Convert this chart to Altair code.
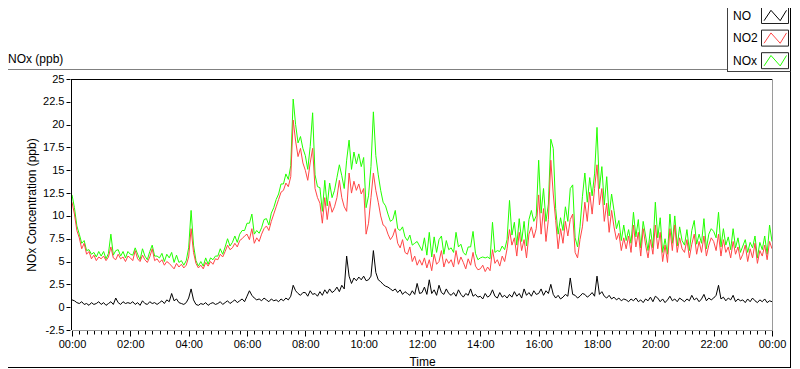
import altair as alt
import pandas as pd

# ---------------- data (5-minute samples) ----------------
SERIES = ["NO", "NO2", "NOx"]
COLORS = ["#000000", "#ff4646", "#22ff00"]
STEP_MIN = 5
Y_TICKS = [-2.5, 0, 2.5, 5, 7.5, 10, 12.5, 15, 17.5, 20, 22.5, 25]
X_TICKS = [i * 0.25 for i in range(97)]  # every 15 minutes, 00:00 .. 24:00

NO = [
    0.8, 0.7, 0.5, 0.4, 0.6, 0.3, 0.4, 0.2, 0.5, 0.3, 0.4, 0.6,
    0.3, 0.5, 0.2, 0.4, 0.6, 0.3, 1.0, 0.5, 0.3, 0.6, 0.4, 0.5,
    0.4, 0.6, 0.3, 0.5, 0.2, 0.7, 0.4, 0.3, 0.6, 0.4, 0.5, 0.3,
    0.5, 0.7, 0.4, 0.8, 0.6, 1.5, 0.7, 0.9, 0.5, 0.4, 0.3, 0.5,
    1.0, 2.0, 0.8, 0.3, 0.2, 0.4, 0.3, 0.5, 0.2, 0.4, 0.5, 0.3,
    0.4, 0.6, 0.3, 0.5, 0.7, 0.4, 0.6, 0.8, 0.5, 0.7, 0.9, 0.6,
    1.2, 1.8, 1.3, 1.0, 0.8, 0.9, 0.7, 1.0, 0.8, 0.6, 0.9, 0.7,
    0.8, 0.6, 0.9, 0.7, 1.0, 0.8, 1.2, 2.4, 1.8, 1.5, 1.3, 1.6,
    1.6, 1.2, 1.8, 1.4, 1.5, 1.2, 1.7, 1.3, 1.9, 1.5, 2.0, 1.6,
    1.8, 2.2, 1.7, 2.4, 2.0, 5.6, 3.4, 2.6, 3.2, 2.9, 3.3, 3.0,
    3.4, 2.9, 3.0, 3.4, 6.2, 3.8, 3.0, 2.8, 2.5, 2.3, 2.2, 2.0,
    1.8, 2.0, 1.6, 1.9, 1.4, 1.7, 1.5, 1.3, 1.8, 1.4, 2.6, 1.5,
    1.6, 2.2, 1.4, 3.0, 1.5, 1.9, 1.3, 2.4, 1.6, 1.4, 2.0, 1.5,
    1.3, 1.6, 1.2, 1.9, 1.4, 1.1, 1.5, 1.3, 2.0, 1.2, 1.4, 1.1,
    1.2, 0.9, 1.5, 1.1, 1.3, 1.9, 1.2, 1.0, 1.6, 1.1, 1.3, 1.0,
    1.4, 1.1, 1.7, 1.2, 1.5, 1.0, 2.0, 1.3, 1.6, 1.2, 1.8, 1.4,
    1.5, 2.0, 1.3, 1.8, 1.5, 2.5, 1.4, 1.0, 1.3, 0.9, 1.1, 1.4,
    1.2, 3.2, 1.4, 1.3, 1.0, 1.2, 1.5, 1.4, 1.1, 1.3, 1.6, 1.2,
    3.4, 1.4, 1.7, 1.2, 1.0, 1.3, 0.9, 1.1, 0.8, 1.0, 0.7, 0.9,
    0.8, 0.6, 0.9, 0.7, 1.0, 0.6, 0.8, 0.5, 0.9, 0.7, 1.1, 0.6,
    1.2, 1.0, 0.6, 0.9, 0.5, 0.8, 1.2, 0.7, 0.9, 0.6, 1.0, 0.8,
    0.6, 0.9, 0.7, 1.3, 0.8, 1.0, 0.6, 0.9, 1.4, 0.7, 1.0, 0.8,
    1.0, 1.3, 2.4, 0.9, 1.1, 0.7, 1.0, 0.8, 1.3, 0.6, 0.9, 0.7,
    0.8, 0.5, 0.9, 0.6, 1.0, 0.7, 0.5, 0.8, 0.6, 0.9, 0.5, 0.7,
    0.6,
]

NO2 = [
    11.5, 10.2, 8.4, 7.6, 6.4, 7.0, 5.8, 6.1, 5.3, 5.7, 5.1, 5.5,
    5.3, 5.6, 5.1, 5.5, 6.6, 5.4, 5.2, 5.8, 5.3, 5.5, 5.0, 5.6,
    5.4, 5.1, 6.2, 5.3, 5.0, 5.7, 5.2, 4.9, 5.5, 6.4, 5.1, 5.3,
    4.9, 5.2, 4.6, 5.0, 4.8, 4.5, 4.2, 4.8, 4.4, 4.7, 4.3, 4.6,
    5.5, 8.6, 6.0, 4.8, 4.3, 4.6, 4.2, 4.9, 4.5, 5.0, 4.7, 5.3,
    5.2, 5.8, 5.5, 6.1, 6.8, 6.3, 6.5, 7.0, 6.6, 7.3, 7.5, 7.8,
    8.0, 7.4, 8.6, 7.0, 7.6, 7.2, 8.0, 8.6, 8.9, 8.4, 9.4, 10.2,
    11.0, 11.8, 12.6, 12.8, 13.6, 13.2, 14.3, 20.5, 18.2, 16.5, 17.4, 15.8,
    15.0, 13.9, 15.8, 17.4, 13.0, 12.0, 11.4, 9.2, 12.0, 9.6, 11.6, 10.4,
    11.0, 12.0, 13.9, 12.0, 11.0, 10.5, 14.7, 12.5, 13.8, 12.8, 13.5, 12.4,
    13.0, 8.0, 9.2, 12.0, 14.7, 12.8, 11.5, 10.0, 9.0, 8.8, 8.0, 7.4,
    7.8, 8.6, 7.0, 6.5, 7.4, 6.0, 5.8, 6.6, 5.0, 5.6, 4.6, 5.2,
    4.6, 5.4, 4.3, 5.2, 4.0, 5.8, 4.7, 5.0, 6.2, 4.4, 5.3, 4.8,
    5.2, 4.4, 6.2, 4.7, 5.5, 4.9, 4.2, 5.3, 4.6, 6.0, 4.5, 4.1,
    4.2, 4.6, 3.9, 4.4, 4.0, 6.3, 4.8, 5.2, 4.5, 5.6, 5.0, 6.4,
    8.5, 6.8, 7.6, 5.6, 8.2, 6.2, 7.4, 5.4, 8.0, 8.8, 7.6, 8.6,
    12.3, 8.0, 10.8, 7.2, 9.6, 16.1, 12.4, 9.5, 6.4, 8.6, 7.0, 9.4,
    7.8, 9.6, 10.2, 6.0, 5.4, 7.4, 8.8, 11.5, 9.4, 12.6, 10.2, 13.0,
    15.6, 11.2, 13.0, 9.4, 11.4, 8.2, 10.6, 8.8, 7.4, 8.1, 6.2, 7.6,
    6.4, 7.8, 6.0, 9.0, 6.6, 8.2, 5.6, 8.6, 6.8, 5.4, 7.4, 5.8,
    9.0, 6.4, 8.2, 5.0, 6.8, 4.9, 8.6, 6.2, 9.0, 6.0, 7.6, 6.4,
    6.0, 7.4, 5.4, 6.9, 8.0, 5.8, 7.2, 6.0, 7.8, 5.6, 6.8, 7.6,
    7.2, 6.2, 8.0, 5.6, 7.4, 6.0, 6.6, 5.4, 7.2, 5.8, 6.6, 5.2,
    5.8, 6.8, 5.0, 6.4, 5.4, 7.0, 4.8, 6.2, 5.6, 6.8, 5.2, 7.2,
    6.4,
]

NOX = [
    12.3, 10.9, 8.9, 8.0, 7.0, 7.3, 6.2, 6.3, 5.8, 6.0, 5.5, 6.1,
    5.6, 6.1, 5.3, 5.9, 8.0, 5.7, 6.2, 6.3, 5.6, 6.1, 5.4, 6.1,
    5.8, 5.7, 6.5, 5.8, 5.2, 6.4, 5.6, 5.2, 6.1, 6.8, 5.6, 5.6,
    5.4, 5.9, 5.0, 5.8, 5.4, 6.0, 4.9, 5.7, 4.9, 5.1, 4.6, 5.1,
    6.5, 10.6, 6.8, 5.1, 4.5, 5.0, 4.5, 5.4, 4.7, 5.4, 5.2, 5.6,
    5.6, 6.4, 5.8, 6.6, 7.5, 6.7, 7.1, 7.8, 7.1, 8.0, 8.4, 8.4,
    9.2, 9.2, 10.2, 8.0, 8.4, 8.1, 8.7, 9.6, 9.7, 9.0, 10.3, 10.9,
    11.8, 12.4, 13.5, 13.5, 14.6, 14.0, 15.5, 22.8, 20.0, 18.0, 18.7, 17.4,
    16.6, 15.1, 17.6, 21.3, 14.5, 13.2, 13.1, 10.5, 13.9, 11.1, 13.6, 12.0,
    12.8, 14.2, 15.6, 14.4, 13.0, 16.1, 18.3, 15.1, 17.0, 15.7, 16.8, 15.4,
    16.4, 10.9, 12.2, 15.4, 21.4, 16.6, 14.5, 12.8, 11.5, 11.1, 10.2, 9.4,
    9.6, 10.6, 8.6, 8.4, 8.8, 7.7, 7.3, 7.9, 6.8, 7.0, 7.2, 6.7,
    6.2, 7.6, 5.7, 8.2, 5.5, 7.7, 6.0, 7.4, 7.8, 5.8, 7.3, 6.3,
    6.5, 6.0, 8.2, 6.6, 6.9, 6.0, 5.7, 6.6, 6.6, 8.3, 5.9, 5.2,
    5.4, 5.5, 5.4, 5.5, 5.3, 9.3, 6.0, 6.2, 6.1, 6.7, 6.3, 7.4,
    11.7, 7.9, 9.3, 6.8, 9.7, 7.2, 9.4, 6.7, 9.6, 10.6, 9.4, 10.0,
    16.1, 10.3, 13.0, 9.4, 11.3, 18.4, 17.4, 10.8, 8.0, 9.8, 8.4, 11.0,
    9.4, 13.0, 13.4, 7.6, 6.6, 8.8, 12.1, 14.7, 11.5, 14.2, 12.2, 14.6,
    19.7, 13.0, 15.4, 11.2, 14.3, 10.0, 12.4, 10.6, 8.6, 9.5, 7.3, 9.0,
    7.3, 8.5, 7.0, 10.4, 7.7, 9.6, 6.5, 9.4, 7.8, 6.2, 8.6, 6.5,
    11.5, 7.6, 9.8, 6.0, 7.5, 5.8, 10.2, 7.0, 10.0, 6.7, 8.8, 7.3,
    6.8, 8.5, 6.2, 8.4, 9.5, 6.9, 8.0, 7.0, 9.7, 6.4, 8.0, 8.6,
    8.3, 7.6, 10.4, 6.6, 8.6, 6.8, 7.7, 6.3, 8.6, 6.5, 7.6, 6.0,
    6.7, 7.4, 6.0, 7.1, 6.5, 7.8, 5.4, 7.1, 6.3, 7.8, 5.8, 9.0,
    7.2,
]

# ---------------- table ----------------
n = len(NO)
hours = [i * STEP_MIN / 60 for i in range(n)]
df = pd.concat(
    [pd.DataFrame({"t": hours, "v": vals, "s": name})
     for name, vals in zip(SERIES, [NO, NO2, NOX])],
    ignore_index=True,
)
one = pd.DataFrame({"k": [0]})

FONT = "Liberation Sans"
W, H = 700, 251
PAD_L, PAD_T = 64, 71
TOTAL_W, TOTAL_H = 784, 361

x_enc = alt.X(
    "t:Q",
    scale=alt.Scale(domain=[0, 24], nice=False, zero=False),
    axis=alt.Axis(
        values=X_TICKS,
        labelExpr="datum.value % 2 == 0 ? ((datum.value % 24) < 10 ? '0' : '') + (datum.value % 24) + ':00' : ''",
        tickSize={"condition": {"test": "datum.value % 2 == 0", "value": 6}, "value": 4},
        tickColor="#000000",
        labelPadding=2,
        labelFlush=False,
        labelOverlap=False,
        domain=False,
        grid=False,
        labelFont=FONT,
        labelFontSize=11,
        labelColor="#000000",
        title="Time",
        titleFont=FONT,
        titleFontSize=12,
        titleFontWeight="normal",
        titleColor="#000000",
        titleY=35,
        titleBaseline="alphabetic",
    ),
)

y_enc = alt.Y(
    "v:Q",
    scale=alt.Scale(domain=[-2.5, 25], nice=False, zero=False),
    axis=alt.Axis(
        values=Y_TICKS,
        labelExpr="datum.value + ''",
        tickSize=4,
        offset=2,
        tickColor="#000000",
        domain=False,
        grid=False,
        labelPadding=2,
        labelFont=FONT,
        labelFontSize=11,
        labelColor="#000000",
        title="NOx Concentration (ppb)",
        titleFont=FONT,
        titleFontSize=12,
        titleFontWeight="normal",
        titleColor="#000000",
        titleX=-35,
        titleY=H / 2,
        titleAngle=270,
        titleAlign="center",
        titleBaseline="alphabetic",
    ),
)

base = alt.Chart(df).encode(x=x_enc, y=y_enc)

# draw NOx first, then NO2, then NO on top
lines = []
for name in ["NOx", "NO2", "NO"]:
    c = COLORS[SERIES.index(name)]
    lines.append(
        base.transform_filter(alt.datum.s == name).mark_line(color=c, strokeWidth=1, clip=True)
    )


def hrule(x1, x2, y, color):
    return alt.Chart(one).mark_rule(color=color, strokeWidth=1).encode(
        x=alt.value(x1), x2=alt.value(x2), y=alt.value(y))


def vrule(x, y1, y2, color):
    return alt.Chart(one).mark_rule(color=color, strokeWidth=1).encode(
        x=alt.value(x), y=alt.value(y1), y2=alt.value(y2))


RIGHT = TOTAL_W - PAD_L - 1.5      # outer right edge (plot coords)
LEG_L = 655.5                      # legend box left edge (plot coords)

deco = [
    # plot frame
    hrule(0, W, 0.5, "#000000"),
    vrule(-0.5, 0, H, "#000000"),
    vrule(W + 0.5, 0, H, "#9a9a9a"),
    hrule(0, W + 0.5, H + 0.5, "#9a9a9a"),
    # outer panel frame
    hrule(-64, LEG_L, -9.5, "#808080"),
    hrule(-64, RIGHT + 0.5, 288.5, "#000000"),
    vrule(RIGHT, -71, 289, "#000000"),
    # legend frame
    vrule(LEG_L, -71, -7, "#404040"),
    hrule(LEG_L, RIGHT, -7.5, "#404040"),
]

# chart label
label = alt.Chart(one).mark_text(
    text="NOx (ppb)", align="left", baseline="alphabetic", font=FONT, fontSize=12, color="#000000"
).encode(x=alt.value(-64), y=alt.value(-16.5))

# legend (label, boxed zig-zag swatch)
ZIG = "M-0.95,0.45L-0.35,-0.45L0.45,0.45L1,-0.45"
legend = []
for i, (name, col) in enumerate(zip(SERIES, COLORS)):
    cy = -63.5 + 22.6 * i
    legend.append(
        alt.Chart(one).mark_text(
            text=name, align="left", baseline="alphabetic", font=FONT, fontSize=12, color="#000000"
        ).encode(x=alt.value(661), y=alt.value(cy + 4.3))
    )
    legend.append(
        alt.Chart(one).mark_rect(fill="#ffffff", stroke="#202020", strokeWidth=1).encode(
            x=alt.value(689.5), x2=alt.value(716.5),
            y=alt.value(cy - 8), y2=alt.value(cy + 8))
    )
    legend.append(
        alt.Chart(one).mark_point(
            shape=ZIG, size=529, filled=False, stroke=col, strokeWidth=1, opacity=1
        ).encode(x=alt.value(703), y=alt.value(cy))
    )

chart = alt.layer(*deco, *lines, label, *legend).properties(
    width=W,
    height=H,
    padding={"left": PAD_L, "top": PAD_T, "right": TOTAL_W - PAD_L - W, "bottom": TOTAL_H - PAD_T - H},
    autosize=alt.AutoSizeParams(type="none"),
    background="#ffffff",
).configure_view(stroke=None)

chart.save("out.html", embed_options={"renderer": "svg", "actions": False})
